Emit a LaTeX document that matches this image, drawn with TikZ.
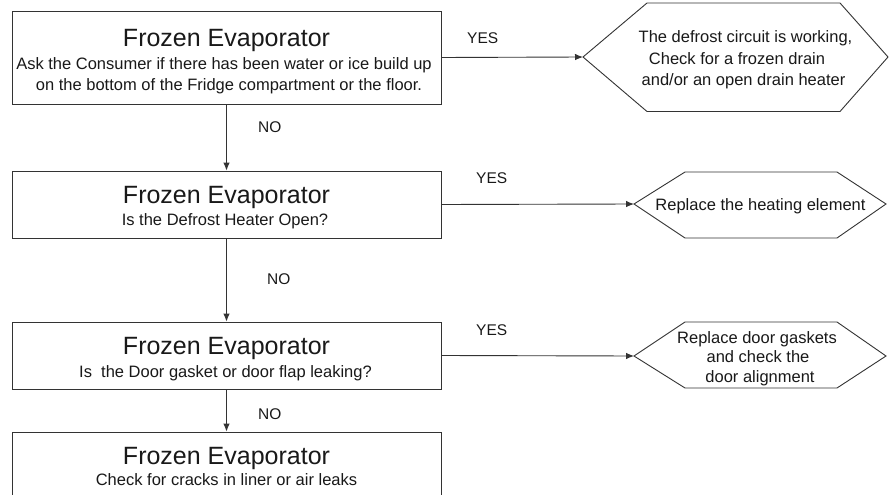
\documentclass[tikz,border=0pt]{standalone}
\usepackage{fontspec}
\setmainfont{Liberation Sans}
\usetikzlibrary{arrows.meta}
\begin{document}
\begin{tikzpicture}[x=1pt,y=-1pt,
  line/.style={draw=black!80, line width=0.9pt},
  box/.style={line, rectangle, minimum width=429pt, inner sep=0pt, fill=white},
  ttl/.style={anchor=base, inner sep=0pt, font=\fontsize{25}{30}\selectfont, text=black!90},
  body/.style={anchor=base, inner sep=0pt, font=\fontsize{16.5}{20}\selectfont, text=black!90},
  lbl/.style={anchor=base west, inner sep=0pt, font=\fontsize{15.5}{18}\selectfont, text=black!90},
  hexa/.style={line, fill=white},
  conn/.style={line, -{Latex[length=8pt,width=6.5pt]}},
]
\useasboundingbox (0,0) rectangle (889,495);
\clip (0,0) rectangle (889,495);

% boxes
\node[box, minimum height=93pt] (b1) at (226.5,57.5) {};
\node[box, minimum height=67pt] (b2) at (226.5,204.5) {};
\node[box, minimum height=67pt] (b3) at (226.5,355.5) {};
\node[box, minimum height=80pt] (b4) at (226.5,472) {};

% box texts
\node[ttl] (t1) at (226.5,47) {Frozen Evaporator};
\node[body] (s1a) at (224,70) {Ask the Consumer if there has been water or ice build up};
\node[body] (s1b) at (229,90) {on the bottom of the Fridge compartment or the floor.};
\node[ttl] (t2) at (226.5,203) {Frozen Evaporator};
\node[body] (s2) at (225,225) {Is the Defrost Heater Open?};
\node[ttl] (t3) at (226.5,354) {Frozen Evaporator};
\node[body] (s3) at (225.5,377) {Is\ \ the Door gasket or door flap leaking?};
\node[ttl] (t4) at (226.5,464) {Frozen Evaporator};
\node[body] (s4) at (226.5,485) {Check for cracks in liner or air leaks};

% hexagons
\draw[hexa] (583,57) -- (647,3) -- (840,3) -- (888,57) -- (840,111.5) -- (647,111.5) -- cycle;
\coordinate (h1) at (583,57);
\draw[hexa] (634,204) -- (685,172) -- (837,172) -- (886,204) -- (837,238) -- (685,238) -- cycle;
\coordinate (h2) at (634,204);
\draw[hexa] (634,356) -- (685,322) -- (837,322) -- (886,356) -- (837,388) -- (685,388) -- cycle;
\coordinate (h3) at (634,356);

% hexagon texts
\node[body] (r1a) at (745.5,43) {The defrost circuit is working,};
\node[body] (r1b) at (737,64.5) {Check for a frozen drain};
\node[body] (r1c) at (743.5,85) {and/or an open drain heater};
\node[body] (r2) at (760.5,210) {Replace the heating element};
\node[body] (r3a) at (757,343) {Replace door gaskets};
\node[body] (r3b) at (758,362) {and check the};
\node[body] (r3c) at (760,382) {door alignment};

% connectors
\draw[conn] (b1) -- (b2);
\draw[conn] (b2) -- (b3);
\draw[conn] (b3) -- (b4);
\draw[conn] (b1.east) -- (h1);
\draw[conn] (b2.east) -- (h2);
\draw[conn] (b3.east) -- (h3);

% labels
\node[lbl] (y1) at (467,44) {YES};
\node[lbl] (y2) at (476,183) {YES};
\node[lbl] (y3) at (476,335) {YES};
\node[lbl] (n1) at (258,132) {NO};
\node[lbl] (n2) at (267,284) {NO};
\node[lbl] (n3) at (258,419) {NO};
\end{tikzpicture}
\end{document}
